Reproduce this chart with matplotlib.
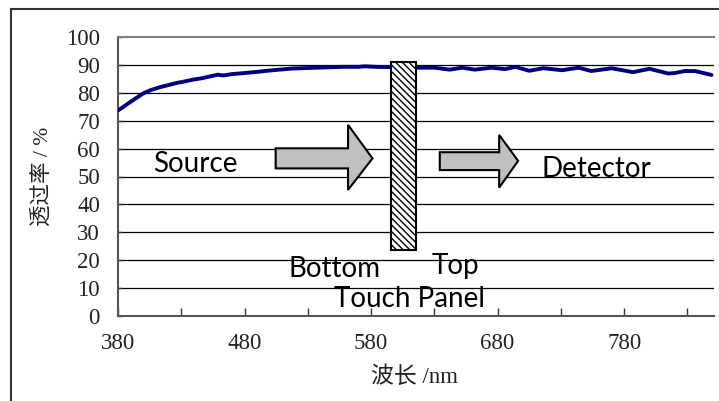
import matplotlib
matplotlib.use("Agg")
import matplotlib.pyplot as plt
from matplotlib.patches import Rectangle, Polygon
from matplotlib.lines import Line2D

# ---- data ----
wavelength = [380, 385, 390, 395, 400, 406, 413, 420, 426, 433, 439, 446, 452, 459, 463,
              470, 478, 485, 492, 498, 505, 518, 531, 544, 557, 570, 575, 584, 595, 617,
              630, 642, 652, 662, 675, 686, 694, 705, 716, 731, 744, 754, 770, 787, 800,
              815, 820, 828, 836, 849]
transmittance = [73.7, 75.2, 76.8, 78.3, 79.8, 81.0, 82.0, 82.8, 83.5, 84.1, 84.7, 85.2, 85.8, 86.5, 86.2,
                 86.7, 87.0, 87.3, 87.6, 87.9, 88.2, 88.7, 88.9, 89.1, 89.3, 89.3, 89.5, 89.3, 89.2, 89.0,
                 89.0, 88.3, 89.0, 88.3, 89.0, 88.5, 89.3, 87.9, 88.8, 88.1, 89.0, 87.8, 88.8, 87.4, 88.6,
                 86.9, 87.1, 87.8, 87.8, 86.4]
x_major = [380, 480, 580, 680, 780]
x_minor = [430, 530, 630, 730, 830]
y_ticks = [0, 10, 20, 30, 40, 50, 60, 70, 80, 90, 100]
xlabel = "波长 /nm"
ylabel = "透过率 / %"

plt.rcParams['hatch.linewidth'] = 1.0
serif_cjk = ['Liberation Serif', 'Noto Sans CJK SC']
label_font = 'Lato'

fig = plt.figure(figsize=(7.19, 4.01), dpi=100)
W, H = 719, 401
L, R, T, B = 118, 714, 37, 316
ax = fig.add_axes([L / W, (H - B) / H, (R - L) / W, (B - T) / H])

ax.set_xlim(380, 851)
ax.set_ylim(0, 100)

for yv in y_ticks[1:-1]:
    ax.axhline(yv, color='black', lw=0.9, zorder=1)

ax.plot(wavelength, transmittance, color='#000080', lw=2.8, zorder=3,
        solid_joinstyle='round', solid_capstyle='round')

ax.spines['right'].set_visible(False)
ax.spines['top'].set_color('#808080')
ax.spines['top'].set_linewidth(1.5)
for s in ('left', 'bottom'):
    ax.spines[s].set_color('#555555')
    ax.spines[s].set_linewidth(1.5)

ax.set_xticks(x_major)
ax.set_xticks(x_minor, minor=True)
ax.set_yticks(y_ticks)
ax.tick_params(axis='x', which='both', direction='in', length=6, width=1, color='#333333',
               labelsize=16.5, pad=12)
ax.tick_params(axis='y', which='both', direction='in', length=3, width=1, color='#333333',
               labelsize=16.5, pad=13)
for lab in ax.get_xticklabels() + ax.get_yticklabels():
    lab.set_family(serif_cjk)
    lab.set_color('#222222')

ax.set_xlabel(xlabel, family=serif_cjk, fontsize=16.5, color='#222222')
ax.set_ylabel(ylabel, family=serif_cjk, fontsize=15.5, color='#222222')
ax.xaxis.set_label_coords(0.498, -0.219)
ax.yaxis.set_label_coords(-0.127, 0.5)
ax.xaxis.label.set_va('center')
ax.yaxis.label.set_va('center')

# touch panel (hatched)
panel = Rectangle((595.5, 23.7), 19.8, 67.3, facecolor='white', edgecolor='black',
                  hatch='\\\\\\\\\\', lw=1.5, zorder=5)
ax.add_patch(panel)

arrow_kw = dict(closed=True, facecolor='#c0c0c0', edgecolor='black', lw=1.5, zorder=4)
left_arrow = [(504.6, 60.1), (561.8, 60.1), (561.8, 68.5), (581.1, 56.5),
              (561.8, 45.2), (561.8, 52.9), (504.6, 52.9)]
right_arrow = [(634.3, 58.7), (681.2, 58.7), (681.2, 64.9), (696.2, 55.6),
               (681.2, 46.0), (681.2, 52.3), (634.3, 52.3)]
ax.add_patch(Polygon(left_arrow, **arrow_kw))
ax.add_patch(Polygon(right_arrow, **arrow_kw))

tkw = dict(fontsize=20, family=label_font, color='black', va='baseline', ha='left', zorder=6)
ax.text(407.6, 51.6, "Source", **tkw)
ax.text(714.7, 49.8, "Detector", **tkw)
ax.text(515.0, 13.9, "Bottom", **tkw)
ax.text(628.0, 14.9, "Top", **tkw)
ax.text(550.6, 3.2, "Touch Panel", **tkw)

# outer frame (left and top edges)
fig.add_artist(Line2D([11 / W, 11 / W], [0, 1 - 9 / H], color='#333333', lw=1.5))
fig.add_artist(Line2D([11 / W, 1], [1 - 9 / H, 1 - 9 / H], color='#333333', lw=1.5))

fig.savefig("out.png", dpi=100)
